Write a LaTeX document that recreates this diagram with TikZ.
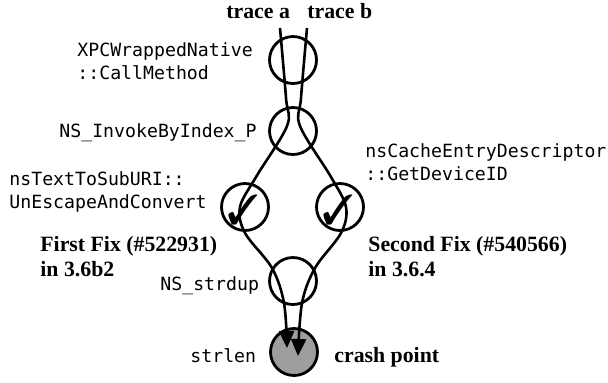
\documentclass[tikz,border=0pt]{standalone}
\usepackage{fontspec}
\usepackage{pifont}
\newfontfamily\monofam{DejaVu Sans Mono}
\newfontfamily\tnrfam{Liberation Serif}
\usetikzlibrary{arrows.meta}
\newcommand{\ckmark}{{\fontsize{21}{21}\selectfont\ding{51}}}
\begin{document}
\begin{tikzpicture}[x=0.5pt,y=-0.5pt,
  fn/.style={draw, circle, minimum size=23.5pt, line width=1.4pt, inner sep=0pt},
  mono/.style={font=\monofam\fontsize{9.1}{11}\selectfont, inner sep=0pt, anchor=base west},
  bold/.style={font=\tnrfam\bfseries\fontsize{10.9}{13}\selectfont, inner sep=0pt, anchor=base west},
  trace/.style={line width=1.3pt, -{Triangle[length=8.5pt,width=7.5pt]}}]
\useasboundingbox (0,0) rectangle (608,382);
% function nodes
\node[fn] (xpc) at (293,60) {};
\node[fn] (inv) at (293,131) {};
\node[fn] (unesc) at (245,207) {};
\node[fn] (cache) at (340,207) {};
\node[fn] (dup) at (293,281) {};
\node[fn, fill=black!38] (len) at (294,352) {};
\node[inner sep=0pt] (ck1) at (243,210) {\ckmark};
\node[inner sep=0pt] (ck2) at (338,210) {\ckmark};
% labels
\node[bold] (ta) at (226,18) {trace a};
\node[bold] (tb) at (307,18) {trace b};
\node[mono] (l1a) at (77,56) {XPCWrappedNative};
\node[mono] (l1b) at (77,79) {::CallMethod};
\node[mono] (l2) at (59,137) {NS\_InvokeByIndex\_P};
\node[mono] (l3a) at (9,185) {nsTextToSubURI::};
\node[mono] (l3b) at (9,208) {UnEscapeAndConvert};
\node[mono] (l4a) at (365,157) {nsCacheEntryDescriptor};
\node[mono] (l4b) at (365,180) {::GetDeviceID};
\node[bold] (f1a) at (40,251) {First Fix (\#522931)};
\node[bold] (f1b) at (40,276) {in 3.6b2};
\node[bold] (f2a) at (368,251) {Second Fix (\#540566)};
\node[bold] (f2b) at (368,276) {in 3.6.4};
\node[mono] (l5) at (160,290) {NS\_strdup};
\node[mono] (l6) at (190,362) {strlen};
\node[bold] (cp) at (334,362) {crash point};
% trace a
\coordinate (a0) at (280,28);
\coordinate (a1) at (286,98);
\coordinate (a2) at (287,126);
\coordinate (a3) at (256,177);
\coordinate (a4) at (240,207);
\coordinate (a5) at (245,233);
\coordinate (a6) at (272,268);
\coordinate (a7) at (284,303);
\coordinate (a8) at (287,348);
\draw[trace] plot[smooth, tension=0.55] coordinates {(a0) (a1) (a2) (a3) (a4) (a5) (a6) (a7) (a8)};
% trace b
\coordinate (b0) at (307,28);
\coordinate (b1) at (301,98);
\coordinate (b2) at (300,126);
\coordinate (b3) at (331,177);
\coordinate (b4) at (346,207);
\coordinate (b5) at (341,233);
\coordinate (b6) at (315,268);
\coordinate (b7) at (302,303);
\coordinate (b8) at (298,356);
\draw[trace] plot[smooth, tension=0.55] coordinates {(b0) (b1) (b2) (b3) (b4) (b5) (b6) (b7) (b8)};
\end{tikzpicture}
\end{document}
